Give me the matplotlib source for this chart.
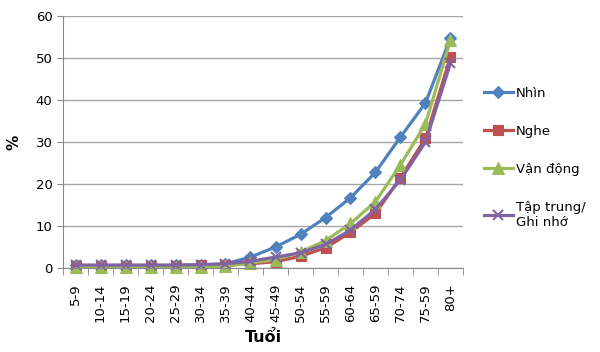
import matplotlib
matplotlib.use("Agg")
import matplotlib.pyplot as plt
import numpy as np

categories = ["5-9", "10-14", "15-19", "20-24", "25-29", "30-34", "35-39", "40-44",
              "45-49", "50-54", "55-59", "60-64", "65-59", "70-74", "75-59", "80+"]
nhin = [0.6, 0.6, 0.6, 0.6, 0.6, 0.7, 1.0, 2.6, 5.0, 8.0, 12.0, 16.7, 22.8, 31.2, 39.3, 54.8]
nghe = [0.5, 0.5, 0.5, 0.5, 0.5, 0.6, 0.8, 1.0, 1.5, 2.8, 4.8, 8.5, 13.0, 21.5, 30.9, 50.3]
van_dong = [0.2, 0.2, 0.2, 0.2, 0.2, 0.3, 0.4, 1.2, 2.0, 3.8, 6.5, 10.6, 15.8, 24.6, 34.3, 54.3]
tap_trung = [0.7, 0.7, 0.7, 0.7, 0.7, 0.8, 1.0, 1.6, 2.6, 3.6, 5.6, 9.0, 14.0, 21.0, 30.0, 48.8]

series = [
    ("Nhìn", nhin, "#4F81BD", "D", 6),
    ("Nghe", nghe, "#C0504D", "s", 7),
    ("Vận động", van_dong, "#9BBB59", "^", 8),
    ("Tập trung/\nGhi nhớ", tap_trung, "#8064A2", "x", 7),
]

plt.rcParams['font.family'] = ['DejaVu Sans']
fig = plt.figure(figsize=(6.0, 3.52), dpi=100)
ax = fig.add_axes([63/600, 1 - 268/352, 400/600, 252/352])

x = np.arange(len(categories))
for label, vals, color, marker, ms in series:
    ax.plot(x, vals, color=color, lw=2.3, marker=marker, markersize=ms,
            markeredgewidth=1.5 if marker == "x" else 0.8,
            markeredgecolor=color, markerfacecolor=color, label=label,
            clip_on=False)

ax.set_xlim(-0.5, len(categories) - 0.5)
ax.set_ylim(0, 60)
ax.set_yticks(np.arange(0, 61, 10))
ax.yaxis.grid(True, color="#a6a6a6", lw=1)
ax.set_axisbelow(True)
ax.set_xticks(x)
ax.set_xticklabels(categories, rotation=90, fontsize=9.5)
ax.set_xticks(np.arange(-0.5, len(categories), 1), minor=True)
ax.tick_params(axis="x", which="major", length=0, pad=11)
ax.tick_params(axis="x", which="minor", length=5, color="#888888")
ax.tick_params(axis="y", length=4, color="#888888", labelsize=9.5)
for s in ["top", "right"]:
    ax.spines[s].set_visible(False)
for s in ["left", "bottom"]:
    ax.spines[s].set_color("#888888")

ax.set_ylabel("%", fontsize=11, fontweight="bold", labelpad=10)
ax.set_xlabel("Tuổi", fontsize=11.5, fontweight="bold", labelpad=6)

fig.legend(loc="upper left", bbox_to_anchor=(472/600, 1 - 75/352), frameon=False,
           fontsize=9.5, handlelength=2.2, labelspacing=1.9, handletextpad=0.2)

fig.savefig("out.png", dpi=100)
